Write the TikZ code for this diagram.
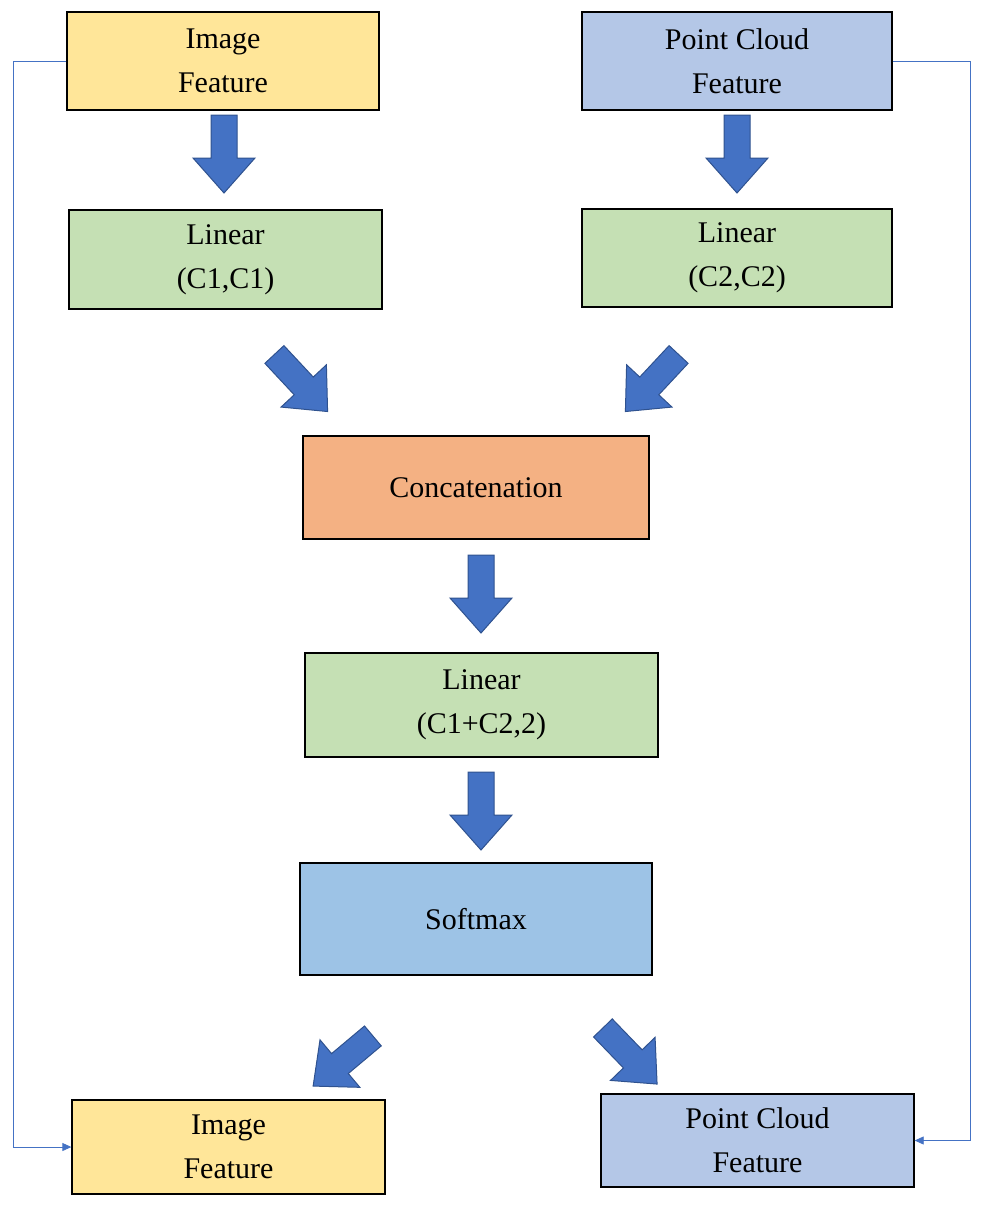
\documentclass[tikz,border=0pt]{standalone}
\usepackage{fontspec}
\setmainfont{Liberation Serif}
\usetikzlibrary{arrows.meta}
\definecolor{yel}{HTML}{FFE699}
\definecolor{pcb}{HTML}{B4C7E7}
\definecolor{grn}{HTML}{C5E0B4}
\definecolor{org}{HTML}{F4B183}
\definecolor{smx}{HTML}{9DC3E6}
\definecolor{arr}{HTML}{4472C4}
\definecolor{arrd}{HTML}{2F528F}
\newcommand\blockarr[3]{\begin{scope}[shift={(#1pt,#2pt)},rotate=#3]
\fill[arr,draw=arrd,line width=1pt] (-39pt,-13pt)--(4pt,-13pt)--(4pt,-31pt)--(39pt,0pt)--(4pt,31pt)--(4pt,13pt)--(-39pt,13pt)--cycle;\end{scope}}
\begin{document}
\begin{tikzpicture}[x=1pt,y=1pt,
 box/.style={draw=black,line width=1.3pt,minimum width=#1,align=center,font=\fontsize{30}{44}\selectfont,inner sep=0pt},
 side/.style={draw=arr,line width=0.8pt,-{Triangle[length=9pt,width=8pt]}}]
\useasboundingbox (0,0) rectangle (985,-1208);
\node[box=312pt,fill=yel,minimum height=98pt] (if) at (223,-61) {Image\\Feature};
\node[box=310pt,fill=pcb,minimum height=98pt] (pf) at (737,-61) {Point Cloud\\Feature};
\node[box=313pt,fill=grn,minimum height=99pt] (l1) at (225.5,-259.5) {Linear\\(C1,C1)};
\node[box=310pt,fill=grn,minimum height=98pt] (l2) at (737,-258) {Linear\\(C2,C2)};
\node[box=346pt,fill=org,minimum height=103pt] (cc) at (476,-487.5) {Concatenation};
\node[box=353pt,fill=grn,minimum height=104pt] (l3) at (481.5,-705) {Linear\\(C1+C2,2)};
\node[box=352pt,fill=smx,minimum height=112pt] (sm) at (476,-919) {Softmax};
\node[box=313pt,fill=yel,minimum height=94pt] (if2) at (228.5,-1147) {Image\\Feature};
\node[box=313pt,fill=pcb,minimum height=93pt] (pf2) at (757.5,-1140.5) {Point Cloud\\Feature};
\blockarr{224}{-154}{-90}
\blockarr{737}{-154}{-90}
\blockarr{301}{-383}{-47}
\blockarr{652}{-383}{-133}
\blockarr{481}{-594}{-90}
\blockarr{481}{-811}{-90}
\blockarr{343}{-1061}{-140}
\blockarr{630}{-1056}{-46}
\draw[side] (if.west) -- (13,-61) |- (if2.west);
\draw[side] (pf.east) -- (970,-61) |- (pf2.east);
\end{tikzpicture}
\end{document}
